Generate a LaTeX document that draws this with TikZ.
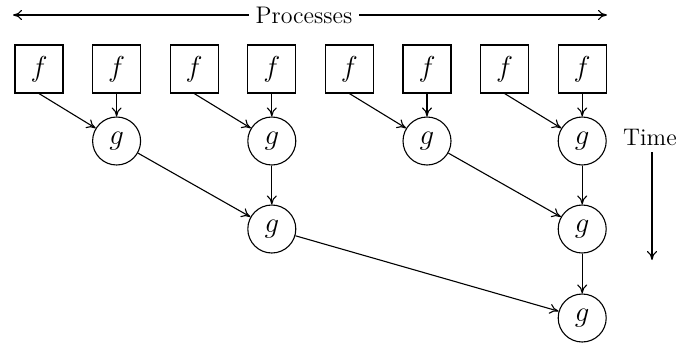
\documentclass[tikz,border=0pt]{standalone}
\usetikzlibrary{arrows.meta}
\begin{document}
\begin{tikzpicture}[x=0.5pt,y=-0.5pt,
  fbox/.style={draw, line width=0.55pt, minimum size=24pt, inner sep=0pt, font=\Large},
  gnode/.style={draw, circle, line width=0.55pt, minimum size=24pt, inner sep=0pt, font=\Large},
  arr/.style={-{To[length=4.5pt,width=5pt]}, line width=0.55pt},
  lbl/.style={font=\large}]
\useasboundingbox (0,0) rectangle (680,343);
\foreach \i/\x in {1/39,2/116.6,3/194.2,4/271.8,5/349.4,6/427,7/504.6,8/582.2}
  \node[fbox] (f\i) at (\x,69) {$f$};
\node[gnode] (g11) at (116.6,141) {$g$};
\node[gnode] (g12) at (271.8,141) {$g$};
\node[gnode] (g13) at (427,141) {$g$};
\node[gnode] (g14) at (582.2,141) {$g$};
\node[gnode] (g21) at (271.8,229) {$g$};
\node[gnode] (g22) at (582.2,229) {$g$};
\node[gnode] (g3) at (582.2,318) {$g$};
\draw[arr] (f1.south) -- (g11);
\draw[arr] (f2) -- (g11);
\draw[arr] (f3.south) -- (g12);
\draw[arr] (f4) -- (g12);
\draw[arr] (f5.south) -- (g13);
\draw[arr] (f6) -- (g13);
\draw[arr] (f7.south) -- (g14);
\draw[arr] (f8) -- (g14);
\draw[arr] (g11) -- (g21);
\draw[arr] (g12) -- (g21);
\draw[arr] (g13) -- (g22);
\draw[arr] (g14) -- (g22);
\draw[arr] (g21) -- (g3);
\draw[arr] (g22) -- (g3);
\node[lbl] (proc) at (304,15) {Processes};
\coordinate (pl) at (13,15);
\coordinate (pr) at (607,15);
\draw[arr] (proc) -- (pl);
\draw[arr] (proc) -- (pr);
\node[lbl] (time) at (650,137) {Time};
\coordinate (tend) at (652,260);
\draw[arr] (time.south -| tend) -- (tend);
\end{tikzpicture}
\end{document}
